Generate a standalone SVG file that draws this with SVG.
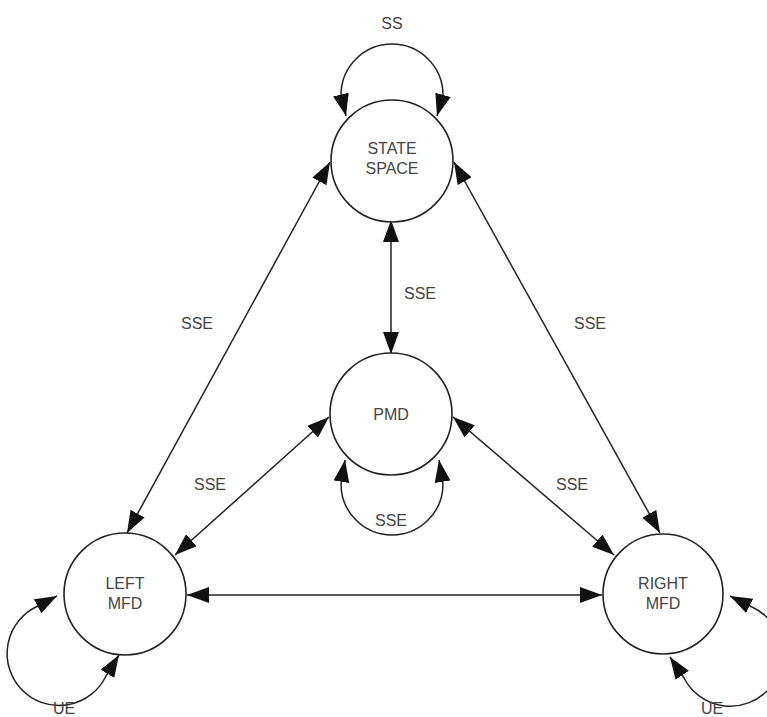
<svg xmlns="http://www.w3.org/2000/svg" width="767" height="717" viewBox="0 0 767 717">
<style>
.node{fill:#fff;stroke:#222;stroke-width:1.6}
.lbl{font-family:"Liberation Sans",Arial,sans-serif;font-size:16px;fill:#444;text-anchor:middle}
.edge{fill:none;stroke:#222;stroke-width:1.5;marker-end:url(#ah);marker-start:url(#ahs)}
</style>
<defs>
<marker id="ah" markerUnits="userSpaceOnUse" markerWidth="24" markerHeight="18" refX="22" refY="8" orient="auto">
<path d="M0,0 L22,8 L0,16 z" fill="#111"/>
</marker>
<marker id="ahs" markerUnits="userSpaceOnUse" markerWidth="24" markerHeight="18" refX="22" refY="8" orient="auto-start-reverse">
<path d="M0,0 L22,8 L0,16 z" fill="#111"/>
</marker>
</defs>
<rect width="767" height="717" fill="#fff"/>
<g id="connectors">
<path class="edge" d="M391 220 L391 354"/>
<path class="edge" d="M330 162 L127 533"/>
<path class="edge" d="M454 162 L660 533"/>
<path class="edge" d="M329 417 L175 555"/>
<path class="edge" d="M453 417 L614 555"/>
<path class="edge" d="M187 595 L602 595"/>
<path class="edge" d="M346 116 L341 95 A51 51 0 0 1 443 95 L437 116"/>
<path class="edge" d="M345 460 L341 484 A51 51 0 0 0 443 484 L439 460"/>
<path class="edge" d="M57 596 L38 606 A52 52 0 1 0 106 676 L119 655"/>
<path class="edge" d="M730 596 L752 607 A52 52 0 1 1 684 678 L670 657"/>
<text class="lbl" x="392" y="29">SS</text>
<text class="lbl" x="420" y="299">SSE</text>
<text class="lbl" x="197" y="329">SSE</text>
<text class="lbl" x="590" y="329">SSE</text>
<text class="lbl" x="210" y="490">SSE</text>
<text class="lbl" x="572" y="490">SSE</text>
<text class="lbl" x="391" y="526">SSE</text>
<text class="lbl" x="64" y="714">UE</text>
<text class="lbl" x="712" y="714">UE</text>
</g>
<g id="state-space">
<circle class="node" cx="392" cy="161" r="61"/>
<text class="lbl" x="392" y="154">STATE</text>
<text class="lbl" x="392" y="174">SPACE</text>
</g>
<g id="pmd">
<circle class="node" cx="391" cy="414" r="61"/>
<text class="lbl" x="391" y="420">PMD</text>
</g>
<g id="left-mfd">
<circle class="node" cx="125" cy="594" r="61"/>
<text class="lbl" x="125" y="589">LEFT</text>
<text class="lbl" x="125" y="609">MFD</text>
</g>
<g id="right-mfd">
<circle class="node" cx="663" cy="594" r="60"/>
<text class="lbl" x="663" y="589">RIGHT</text>
<text class="lbl" x="663" y="609">MFD</text>
</g>
</svg>
